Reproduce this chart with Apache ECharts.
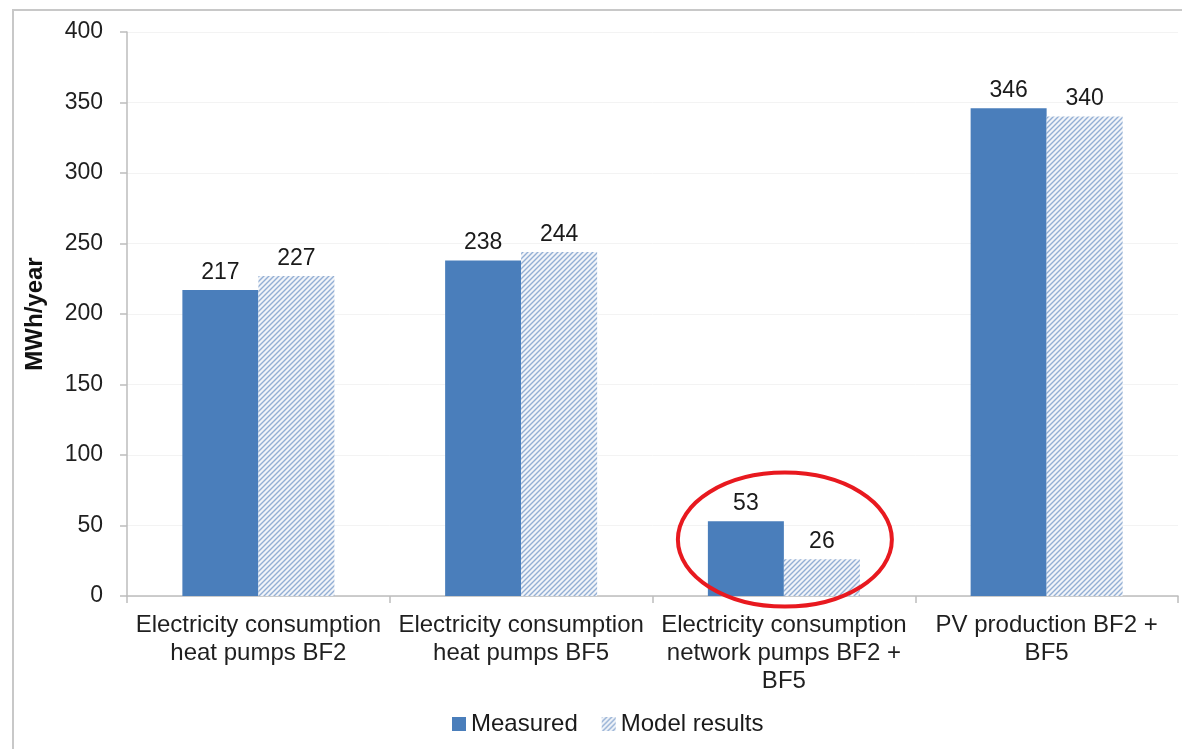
<!DOCTYPE html>
<html>
<head>
<meta charset="utf-8">
<script src="https://cdn.jsdelivr.net/npm/echarts@6/dist/echarts.min.js"></script>
<style>
  html, body { margin: 0; padding: 0; background: #ffffff; }
  #chart { width: 1182px; height: 749px; }
</style>
</head>
<body>
<div id="chart"></div>
<script>
// Categories and series values (MWh/year)
const categories = [
  'Electricity consumption\nheat pumps BF2',
  'Electricity consumption\nheat pumps BF5',
  'Electricity consumption\nnetwork pumps BF2 +\nBF5',
  'PV production BF2 +\nBF5'
];
const measured = [217, 238, 53, 346];
const modelResults = [227, 244, 26, 340];
const yTicks = { min: 0, max: 400, interval: 50 };
// Highlighted category (circled) and the vertical centre of the ring, in axis units
const highlightIndex = 2;
const highlightCentreValue = 40;

// Diagonal hatch used for the model results bars
function hatchPattern() {
  const c = document.createElement('canvas');
  const s = 5;
  c.width = s; c.height = s;
  const g = c.getContext('2d');
  g.fillStyle = '#f1f4f9';
  g.fillRect(0, 0, s, s);
  g.strokeStyle = '#93afd4';
  g.lineWidth = 1.4;
  g.beginPath();
  g.moveTo(0, s); g.lineTo(s, 0);
  g.moveTo(-s / 2, s / 2); g.lineTo(s / 2, -s / 2);
  g.moveTo(s / 2, s + s / 2); g.lineTo(s + s / 2, s / 2);
  g.stroke();
  return c;
}

const chart = echarts.init(document.getElementById('chart'), null, { renderer: 'canvas' });
const font = 'Liberation Sans, Arial, sans-serif';

const labelStyle = {
  show: true,
  position: 'top',
  distance: 6,
  color: '#1a1a1a',
  fontSize: 23,
  fontFamily: font
};

chart.setOption({
  animation: false,
  backgroundColor: '#ffffff',
  grid: { left: 127, right: 4, top: 32, bottom: 153, containLabel: false },
  legend: {
    bottom: 8,
    left: 447,
    itemWidth: 14,
    itemHeight: 14,
    itemGap: 24,
    itemTextGap: 4,
    textStyle: { fontSize: 24, color: '#1a1a1a', fontFamily: font },
    data: [
      { name: 'Measured', icon: 'rect' },
      { name: 'Model results', icon: 'rect' }
    ]
  },
  xAxis: {
    type: 'category',
    data: categories,
    axisLine: { lineStyle: { color: '#bdbdbd', width: 1.5 } },
    axisTick: { show: true, length: 7, lineStyle: { color: '#bdbdbd', width: 1.5 } },
    axisLabel: {
      interval: 0,
      color: '#1f1f1f',
      fontSize: 24,
      lineHeight: 28,
      margin: 15,
      fontFamily: font
    }
  },
  yAxis: {
    type: 'value',
    min: yTicks.min,
    max: yTicks.max,
    interval: yTicks.interval,
    name: 'MWh/year',
    nameLocation: 'middle',
    nameRotate: 90,
    nameGap: 80,
    nameTextStyle: { fontSize: 24, fontWeight: 'bold', color: '#111', fontFamily: font },
    axisLine: { show: true, lineStyle: { color: '#bdbdbd', width: 1.5 } },
    axisTick: { show: true, length: 7, lineStyle: { color: '#bdbdbd', width: 1.5 } },
    axisLabel: { color: '#1f1f1f', fontSize: 23, margin: 24, fontFamily: font },
    splitLine: { show: true, lineStyle: { color: '#f3f3f3', width: 1 } }
  },
  series: [
    {
      name: 'Measured',
      type: 'bar',
      data: measured,
      barWidth: 76,
      barGap: '0%',
      itemStyle: { color: '#4a7ebb' },
      label: labelStyle
    },
    {
      name: 'Model results',
      type: 'bar',
      data: modelResults,
      barWidth: 76,
      itemStyle: { color: { image: hatchPattern(), repeat: 'repeat' } },
      label: labelStyle
    }
  ]
});

// Outer frame and the red ring around the highlighted category
const centre = chart.convertToPixel({ xAxisIndex: 0, yAxisIndex: 0 }, [highlightIndex, highlightCentreValue]);
chart.setOption({
  graphic: [
    {
      type: 'polyline',
      silent: true,
      shape: { points: [[13, 749], [13, 10], [1182, 10]] },
      style: { stroke: '#c8c8c8', lineWidth: 2, fill: null }
    },
    {
      type: 'ellipse',
      silent: true,
      shape: { cx: centre[0] + 1, cy: centre[1], rx: 107, ry: 67 },
      style: { stroke: '#e8191f', lineWidth: 4, fill: null },
      z: 100
    }
  ]
});
</script>
</body>
</html>
